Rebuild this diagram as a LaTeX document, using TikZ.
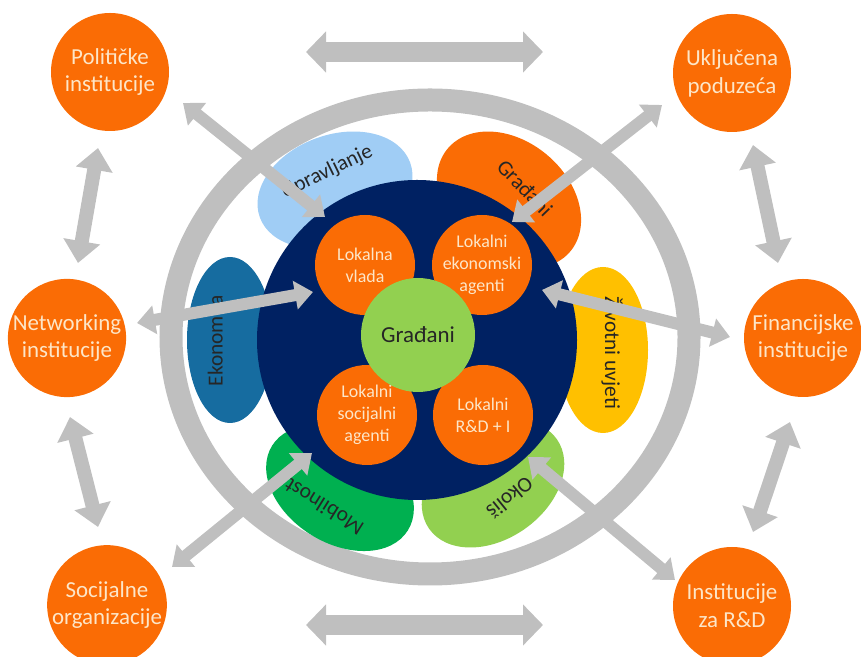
\documentclass[tikz,border=0pt]{standalone}
\usepackage{fontspec}
\setmainfont{Carlito}
\usetikzlibrary{arrows.meta, shapes.geometric}
\definecolor{narancasta}{RGB}{250,108,5}
\definecolor{krem}{RGB}{253,230,200}
\definecolor{tamnoplava}{RGB}{0,33,98}
\definecolor{zelena}{RGB}{146,208,80}
\definecolor{siva}{RGB}{191,191,191}
\definecolor{svijetloplava}{RGB}{160,205,245}
\definecolor{petrolej}{RGB}{22,108,160}
\definecolor{tamnozelena}{RGB}{0,176,80}
\definecolor{zuta}{RGB}{255,192,0}
\tikzset{
x=1bp, y=1bp, % one unit is one pixel of the sketch
institucija/.style={circle, fill=narancasta, text=krem, minimum size=118bp, inner sep=0pt, align=center, font=\fontsize{23}{28}\selectfont}, % outer orange circles
agent/.style={circle, fill=narancasta, text=krem, minimum size=100bp, inner sep=0pt, align=center, font=\fontsize{18}{22}\selectfont}, % circles inside the blue disc
latica/.style={ellipse, inner sep=0pt}, % coloured petals behind the disc
natpis/.style={font=\fontsize{21.5}{25}\selectfont, text=black!85, inner sep=0pt}, % petal labels
veza/.style={draw=siva, line width=12bp, {Triangle[width=28bp,length=18bp]}-{Triangle[width=28bp,length=18bp]}}, % thin grey double arrows
stup/.style={draw=siva, line width=14bp, {Triangle[width=36bp,length=22bp]}-{Triangle[width=36bp,length=22bp]}}, % arrows between institutions
greda/.style={draw=siva, line width=20bp, {Triangle[width=40bp,length=20bp]}-{Triangle[width=40bp,length=20bp]}}, % wide arrows at top and bottom
}
\begin{document}
\begin{tikzpicture}
\useasboundingbox (0,0) rectangle (861,657);
% outer ring
\node[ellipse, draw=siva, line width=23bp, minimum width=518bp, minimum height=474bp, inner sep=0pt] (prsten) at (430,320) {};
% petals
\node[latica, fill=svijetloplava, minimum width=160bp, minimum height=110bp, rotate=20] (upr) at (335,467) {};
\node[latica, fill=narancasta, minimum width=160bp, minimum height=118bp, rotate=-40] (gra) at (509,457) {};
\node[latica, fill=zuta, minimum width=90bp, minimum height=166bp] (ziv) at (603,307) {};
\node[latica, fill=petrolej, minimum width=86bp, minimum height=166bp] (eko) at (230,317) {};
\node[latica, fill=tamnozelena, minimum width=160bp, minimum height=110bp, rotate=-32] (mob) at (340,169) {};
\node[latica, fill=zelena, minimum width=156bp, minimum height=110bp, rotate=35] (oko) at (493,173) {};
\node[natpis, rotate=26] (tupr) at (327,485) {Upravljanje};
\node[natpis, rotate=-46] (tgra) at (525,469) {Građani};
\node[natpis, rotate=-90] (tziv) at (612,304) {Životni uvjeti};
\node[natpis, rotate=90] (teko) at (217,316) {Ekonomija};
\node[natpis, rotate=148] (tmob) at (324,150) {Mobilnost};
\node[natpis, rotate=219] (toko) at (510,159) {Okoliš};
% blue disc and its circles
\node[circle, fill=tamnoplava, minimum size=320bp] (krug) at (417,317) {};
\node[agent] (vlada) at (365,392) {Lokalna\\vlada};
\node[agent] (ekon) at (482,392) {Lokalni\\ekonomski\\agenti};
\node[agent] (soc) at (367,242) {Lokalni\\socijalni\\agenti};
\node[agent] (rd) at (483,242) {Lokalni\\R\&D + I};
\node[circle, fill=zelena, minimum size=114bp, font=\fontsize{23}{27}\selectfont, text=black!85] (gradani) at (418,322) {Građani};
% institutions
\node[institucija] (polit) at (110,585) {Političke\\institucije};
\node[institucija] (uklj) at (732,584) {Uključena\\poduzeća};
\node[institucija] (mreza) at (67,319) {Networking\\institucije};
\node[institucija] (fin) at (803,319) {Financijske\\institucije};
\node[institucija] (sorg) at (107,52) {Socijalne\\organizacije};
\node[institucija] (irdi) at (732,51) {Institucije\\za R\&D};
% arrow ends
\coordinate (a1) at (183,554); \coordinate (b1) at (325,440);
\coordinate (a2) at (662,552); \coordinate (b2) at (512,435);
\coordinate (a3) at (137,334); \coordinate (b3) at (313,365);
\coordinate (a4) at (730,320); \coordinate (b4) at (542,367);
\coordinate (a5) at (172,90);  \coordinate (b5) at (312,204);
\coordinate (a6) at (675,77);  \coordinate (b6) at (528,200);
\coordinate (c1) at (98,509);  \coordinate (d1) at (78,394);
\coordinate (c2) at (70,240);  \coordinate (d2) at (98,130);
\coordinate (c3) at (753,512); \coordinate (d3) at (778,394);
\coordinate (c4) at (790,235); \coordinate (d4) at (753,125);
\coordinate (g1) at (306,605); \coordinate (h1) at (543,605);
\coordinate (g2) at (306,32);  \coordinate (h2) at (543,32);
\foreach \p in {1,...,6} \draw[veza] (a\p) -- (b\p);
\foreach \p in {1,...,4} \draw[stup] (c\p) -- (d\p);
\foreach \p in {1,2} \draw[greda] (g\p) -- (h\p);
\end{tikzpicture}
\end{document}
